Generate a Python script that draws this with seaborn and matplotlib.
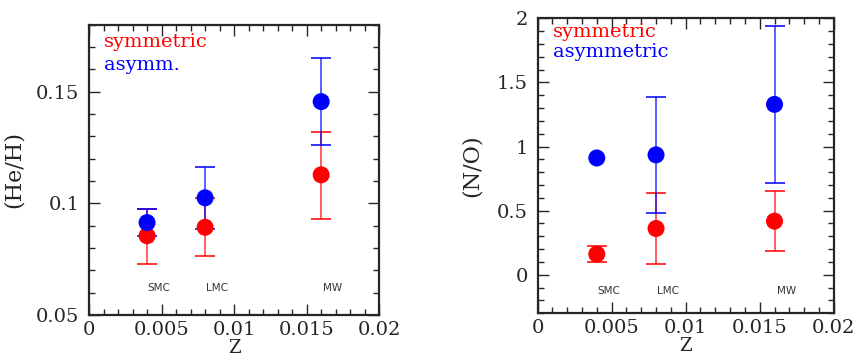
import numpy as np
import pandas as pd
import matplotlib
matplotlib.use('Agg')
import matplotlib.pyplot as plt
from matplotlib.ticker import MultipleLocator
import seaborn as sns

# metallicity of the three galaxies
Z = [0.004, 0.008, 0.016]
GALAXIES = ['SMC', 'LMC', 'MW']

# He/H: value, lower and upper end of error bar
HE_SYM = [0.0855, 0.0893, 0.1128]
HE_SYM_LO = [0.0729, 0.0763, 0.0930]
HE_SYM_HI = [0.0975, 0.1023, 0.1322]
HE_ASY = [0.0914, 0.1025, 0.1456]
HE_ASY_LO = [0.0854, 0.0887, 0.1260]
HE_ASY_HI = [0.0975, 0.1162, 0.1650]

# N/O
NO_SYM = [0.161, 0.361, 0.418]
NO_SYM_LO = [0.096, 0.083, 0.184]
NO_SYM_HI = [0.228, 0.636, 0.654]
NO_ASY = [0.911, 0.935, 1.329]
NO_ASY_LO = [np.nan, 0.483, 0.719]
NO_ASY_HI = [np.nan, 1.384, 1.942]

sns.set_style('ticks')
plt.rcParams.update({
    'font.family': 'DejaVu Serif', 'font.size': 14,
    'xtick.direction': 'in', 'ytick.direction': 'in',
    'xtick.top': True, 'ytick.right': True,
    'xtick.major.size': 8, 'ytick.major.size': 8,
    'xtick.minor.size': 4, 'ytick.minor.size': 4,
    'axes.linewidth': 1.6,
})

fig = plt.figure(figsize=(8.56, 3.6), dpi=100)
ax1 = fig.add_axes([0.104, 0.125, 0.339, 0.806])
ax2 = fig.add_axes([0.628, 0.130, 0.346, 0.819])


def panel(ax, sym, sym_lo, sym_hi, asy, asy_lo, asy_hi):
    df = pd.DataFrame({
        'Z': Z * 2,
        'val': sym + asy,
        'lo': sym_lo + asy_lo,
        'hi': sym_hi + asy_hi,
        'kind': ['symmetric'] * 3 + ['asymmetric'] * 3,
    })
    colors = {'symmetric': 'red', 'asymmetric': 'blue'}
    for kind in ['symmetric', 'asymmetric']:
        d = df[df['kind'] == kind]
        ax.errorbar(d['Z'], d['val'],
                    yerr=[d['val'] - d['lo'], d['hi'] - d['val']],
                    fmt='none', ecolor=colors[kind], elinewidth=1.1,
                    capsize=7, capthick=1.4, alpha=0.8, zorder=2)
        sns.scatterplot(data=d, x='Z', y='val', color=colors[kind], s=150,
                        edgecolor='none', ax=ax, zorder=3, legend=False)
    ax.set_xlim(0, 0.02)
    ax.xaxis.set_minor_locator(MultipleLocator(0.001))
    ax.set_xticks([0, 0.005, 0.01, 0.015, 0.02])
    ax.set_xticklabels(['0', '0.005', '0.01', '0.015', '0.02'])
    ax.tick_params(which='both', width=1.0, pad=7, labelsize=14)
    ax.tick_params(axis='x', pad=4)
    ax.set_xlabel('Z', fontsize=13, labelpad=0)


panel(ax1, HE_SYM, HE_SYM_LO, HE_SYM_HI, HE_ASY, HE_ASY_LO, HE_ASY_HI)
ax1.yaxis.set_minor_locator(MultipleLocator(0.01))
ax1.set_yticks([0.05, 0.1, 0.15])
ax1.set_yticklabels(['0.05', '0.1', '0.15'])
ax1.set_ylim(0.05, 0.18)
ax1.set_ylabel('(He/H)', fontsize=16, labelpad=8)
for z, g in zip(Z, GALAXIES):
    ax1.text(z + 0.0008, 0.062, g, ha='center', va='center', fontsize=7.5,
             family='DejaVu Sans', color='#333333')
ax1.text(0.052, 0.941, 'symmetric', color='red', transform=ax1.transAxes,
         va='center')
ax1.text(0.052, 0.862, 'asymm.', color='blue', transform=ax1.transAxes,
         va='center')

panel(ax2, NO_SYM, NO_SYM_LO, NO_SYM_HI, NO_ASY, NO_ASY_LO, NO_ASY_HI)
ax2.yaxis.set_minor_locator(MultipleLocator(0.1))
ax2.set_yticks([0, 0.5, 1, 1.5, 2])
ax2.set_yticklabels(['0', '0.5', '1', '1.5', '2'])
ax2.set_ylim(-0.3, 2)
ax2.set_ylabel('(N/O)', fontsize=16, labelpad=10)
for z, g in zip(Z, GALAXIES):
    ax2.text(z + 0.0008, -0.127, g, ha='center', va='center', fontsize=7.5,
             family='DejaVu Sans', color='#333333')
ax2.text(0.052, 0.954, 'symmetric', color='red', transform=ax2.transAxes,
         va='center')
ax2.text(0.052, 0.886, 'asymmetric', color='blue', transform=ax2.transAxes,
         va='center')

fig.savefig('out.png', dpi=100)
